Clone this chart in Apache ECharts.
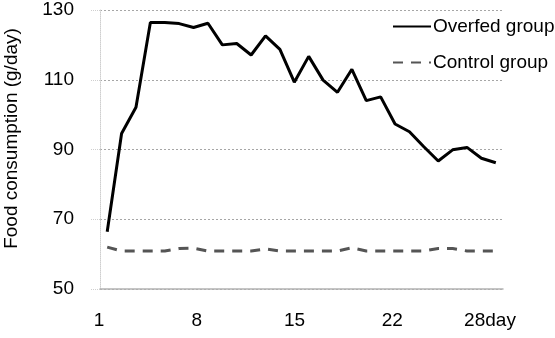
<!DOCTYPE html>
<html>
<head>
<meta charset="utf-8">
<script src="https://cdn.jsdelivr.net/npm/echarts@6/dist/echarts.min.js"></script>
<style>
  html, body { margin: 0; padding: 0; background: #fff; }
  #chart { width: 555px; height: 338px; }
</style>
</head>
<body>
<div id="chart"></div>
<script>
// days of the experiment
const days = ['1', '2', '3', '4', '5', '6', '7', '8', '9', '10', '11', '12', '13', '14',
  '15', '16', '17', '18', '19', '20', '21', '22', '23', '24', '25', '26', '27', '28']
// x tick labels as printed under the axis
const dayTicks = ['1', '8', '15', '22', '28day']
// food consumption (g/day)
const overfed = [66.4, 94.6, 102.1, 126.4, 126.4, 126.1, 125.0, 126.2, 120.0, 120.4,
  117.1, 122.6, 118.7, 109.3, 116.7, 109.9, 106.4, 113.0, 104.0, 105.1,
  97.3, 95.1, 90.8, 86.7, 89.9, 90.6, 87.5, 86.2]
const control = [62.0, 60.9, 60.9, 60.9, 60.9, 61.6, 61.7, 60.9, 60.9, 60.9,
  60.9, 61.5, 60.9, 60.9, 60.9, 60.9, 60.9, 61.8, 60.9, 60.9,
  60.9, 60.9, 60.9, 61.6, 61.6, 60.9, 60.9, 60.9]
const yTicks = { min: 50, max: 130, step: 20 }

const font = 'Liberation Sans, Arial, sans-serif'
const chart = echarts.init(document.getElementById('chart'))

const option = {
  animation: false,
  textStyle: { fontFamily: font },
  legend: {
    orient: 'vertical',
    left: 387,
    top: 12,
    itemWidth: 38,
    itemHeight: 14,
    itemGap: 17,
    itemStyle: { opacity: 0 },
    textStyle: { fontSize: 19, color: '#000', fontFamily: font, padding: [0, 0, 0, -3] },
    data: ['Overfed group', 'Control group']
  },
  grid: [
    { left: 100, right: 52, top: 10, bottom: 49, outerBoundsMode: 'none' },
    // second grid only carries the printed day labels
    { left: 99, right: 65, top: 10, bottom: 49, outerBoundsMode: 'none' }
  ],
  xAxis: [
    {
      type: 'category',
      gridIndex: 0,
      data: days,
      boundaryGap: true,
      axisLine: { lineStyle: { color: '#b3b3b3', width: 1.5 } },
      axisTick: { show: false },
      axisLabel: { show: false }
    },
    {
      type: 'category',
      gridIndex: 1,
      data: dayTicks,
      boundaryGap: false,
      axisLine: { show: false },
      axisTick: { show: false },
      axisLabel: { show: true, interval: 0, margin: 22, fontSize: 19, color: '#000', fontFamily: font }
    }
  ],
  yAxis: [
    {
      type: 'value',
      gridIndex: 0,
      min: yTicks.min,
      max: yTicks.max,
      interval: yTicks.step,
      name: 'Food consumption (g/day)',
      nameLocation: 'middle',
      nameGap: 79,
      nameTextStyle: { fontSize: 19, color: '#000', fontFamily: font, padding: [0, 0, 0, 22] },
      axisLine: { show: true, lineStyle: { color: '#cfcfcf', type: 'dotted' } },
      axisTick: { show: true, length: 10, lineStyle: { color: '#cfcfcf', type: 'dotted' } },
      axisLabel: { margin: 26, fontSize: 19, color: '#000', fontFamily: font },
      splitLine: { lineStyle: { color: '#a6a6a6', type: [2, 2], width: 1 } }
    },
    {
      type: 'value',
      gridIndex: 1,
      show: false
    }
  ],
  series: [
    {
      name: 'Overfed group',
      type: 'line',
      data: overfed,
      symbol: 'none',
      lineStyle: { color: '#000', width: 3 },
      itemStyle: { color: '#000' }
    },
    {
      name: 'Control group',
      type: 'line',
      data: control,
      symbol: 'none',
      lineStyle: { color: '#555', width: 3, type: [10, 8] },
      itemStyle: { color: '#555' }
    }
  ]
}

chart.setOption(option)
</script>
</body>
</html>
